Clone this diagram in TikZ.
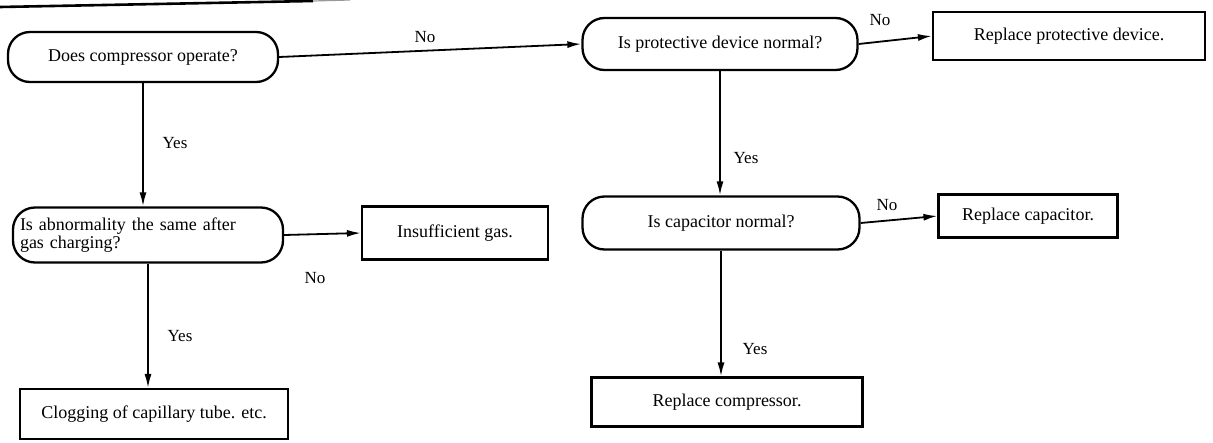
\documentclass[tikz,border=0pt]{standalone}
\usepackage{fontspec}
\setmainfont{Liberation Serif}
\usetikzlibrary{arrows.meta}
\begin{document}
\begin{tikzpicture}[x=1pt, y=-1pt,
  every node/.style={font=\fontsize{18}{18}\selectfont},
  pill/.style={draw, line width=2.3pt, rounded corners=22pt, inner sep=0pt, align=center},
  actbox/.style={draw, line width=2.1pt, inner sep=0pt, align=center},
  flow/.style={line width=1.8pt, -{Latex[length=14pt, width=7pt]}},
  lab/.style={font=\fontsize{17}{17}\selectfont, inner sep=0pt}]
  \useasboundingbox (0,0) rectangle (1213,442);

  % rule at the head of the page
  \draw[line width=2.6pt] (0,7) -- (313,1);
  \draw[line width=1.2pt, black!40] (313,1) -- (350,0);

  % decisions
  \node[pill, minimum width=270pt, minimum height=50pt] (n1) at (143,57) {Does compressor operate?};
  \node[pill, minimum width=275pt, minimum height=52pt] (n2) at (720,44) {Is protective device normal?};
  \node[pill, minimum width=270pt, minimum height=55pt, text width=256pt, inner xsep=7pt, align=left] (n4) at (148,235)
    {Is abnormality the same after\\gas charging?};
  \node[pill, minimum width=277pt, minimum height=53pt] (n5) at (721,223) {Is capacitor normal?};

  % actions
  \node[actbox, minimum width=272pt, minimum height=48pt] (b3) at (1069,36) {Replace protective device.};
  \node[actbox, minimum width=186pt, minimum height=53pt] (b4) at (455,233) {Insufficient gas.};
  \node[actbox, minimum width=179pt, minimum height=43pt] (b5) at (1028,216) {Replace capacitor.};
  \node[actbox, minimum width=268pt, minimum height=50pt] (b1) at (154,414) {Clogging of capillary tube. etc.};
  \node[actbox, minimum width=271pt, minimum height=49pt] (b6) at (727,402) {Replace compressor.};

  % connectors
  \draw[flow] (n1.east) -- (n2.west);
  \draw[flow] (n2.east) -- (b3.west);
  \draw[flow] (n1.south) -- (n1.south |- n4.north);
  \draw[flow] (n4.east) -- (b4.west);
  \draw[flow] (n4.south) -- (n4.south |- b1.north);
  \draw[flow] (n2.south) -- (n2.south |- n5.north);
  \draw[flow] (n5.east) -- (b5.west);
  \draw[flow] (n5.south) -- (n5.south |- b6.north);

  % branch labels
  \node[lab] (l1) at (425,37) {No};
  \node[lab] (l2) at (880,20) {No};
  \node[lab] (l3) at (175,143) {Yes};
  \node[lab] (l4) at (746,158) {Yes};
  \node[lab] (l5) at (315,278) {No};
  \node[lab] (l6) at (887,205) {No};
  \node[lab] (l7) at (180,336) {Yes};
  \node[lab] (l8) at (755,349) {Yes};
\end{tikzpicture}
\end{document}
